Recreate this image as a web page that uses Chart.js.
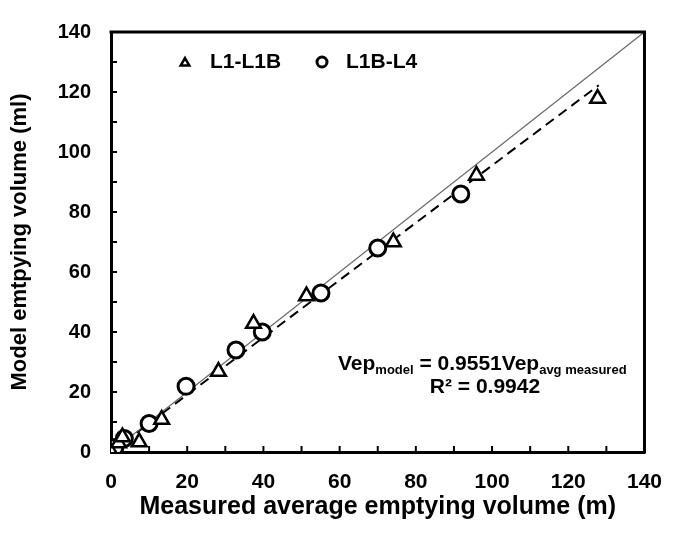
<!DOCTYPE html>
<html>
<head>
<meta charset="utf-8">
<script src="https://cdn.jsdelivr.net/npm/chart.js@4.4.1/dist/chart.umd.min.js"></script>
<style>
  html, body { margin: 0; padding: 0; background: #fff; }
  #wrap { width: 680px; height: 536px; }
</style>
</head>
<body>
<div id="wrap"><canvas id="grafica"></canvas></div>
<script>
// Datos
const l1X = [0, 2, 3, 7.4, 13.3, 28.2, 37.4, 51.3, 74.1, 95.9, 127.7];
const l1Y = [0, 3, 5, 3.3, 10.8, 26.8, 42.8, 52, 70, 92.2, 117.8];
const l4X = [0, 1, 3.5, 10, 19.7, 32.8, 39.7, 55.1, 70, 91.8];
const l4Y = [0, 1.5, 4.5, 9.5, 21.9, 34, 40, 53, 68, 86];
const lineaUnoX = [0, 140];
const lineaAjusteX = [0, 128];
const pendiente = 0.9551;
const ticksEje = [0, 20, 40, 60, 80, 100, 120, 140];

const fuente = "'Liberation Sans', Arial, sans-serif";

const puntos = (xs, ys) => xs.map((x, i) => ({ x: x, y: ys[i] }));

// Marco superior/derecho, ticks hacia adentro, leyenda y ecuación
const extras = {
    id: 'extras',
    afterDraw(chart) {
        const ctx = chart.ctx;
        const a = chart.chartArea;
        const sx = chart.scales.x, sy = chart.scales.y;
        ctx.save();
        ctx.strokeStyle = '#000';
        ctx.lineWidth = 3;
        ctx.beginPath();
        ctx.moveTo(a.left - 1.5, a.top);
        ctx.lineTo(a.right, a.top);
        ctx.lineTo(a.right, a.bottom + 1.5);
        ctx.stroke();
        ctx.lineWidth = 2;
        for (let v = 10; v < 140; v += 10) {
            const px = sx.getPixelForValue(v);
            ctx.beginPath(); ctx.moveTo(px, a.bottom); ctx.lineTo(px, a.bottom - 6); ctx.stroke();
            const py = sy.getPixelForValue(v);
            ctx.beginPath(); ctx.moveTo(a.left, py); ctx.lineTo(a.left + 6, py); ctx.stroke();
        }
        // leyenda
        ctx.fillStyle = '#fff';
        ctx.lineWidth = 2.5;
        Chart.helpers.drawPoint(ctx, { pointStyle: 'triangle', radius: 5, borderWidth: 2.5 }, 185, 63);
        ctx.lineWidth = 3;
        Chart.helpers.drawPoint(ctx, { pointStyle: 'circle', radius: 5, borderWidth: 3 }, 322, 62);
        ctx.fillStyle = '#000';
        ctx.font = 'bold 21px ' + fuente;
        ctx.textBaseline = 'middle';
        ctx.fillText('L1-L1B', 210, 62);
        ctx.fillText('L1B-L4', 346, 62);
        // ecuación
        let x = 338;
        const y = 370;
        const trozos = [
            ['Vep', 21, 0], ['model', 13, 4], [' = 0.9551Vep', 21, 0], ['avg measured', 13, 4]
        ];
        ctx.textBaseline = 'alphabetic';
        trozos.forEach(t => {
            ctx.font = 'bold ' + t[1] + 'px ' + fuente;
            ctx.fillText(t[0], x, y + t[2]);
            x += ctx.measureText(t[0]).width;
        });
        ctx.font = 'bold 21px ' + fuente;
        ctx.textAlign = 'center';
        ctx.fillText('R\u00B2 = 0.9942', 485, 393);
        ctx.restore();
    }
};

const ctx = document.getElementById('grafica').getContext('2d');
new Chart(ctx, {
    type: 'scatter',
    data: {
        datasets: [
            {
                label: 'L1-L1B',
                data: puntos(l1X, l1Y),
                pointStyle: 'triangle',
                pointRadius: 8.5,
                borderWidth: 2.5,
                borderColor: '#000',
                backgroundColor: '#fff',
                order: 0
            },
            {
                label: 'L1B-L4',
                data: puntos(l4X, l4Y),
                pointStyle: 'circle',
                pointRadius: 8,
                borderWidth: 3,
                borderColor: '#000',
                backgroundColor: '#fff',
                order: 0
            },
            {
                type: 'line',
                label: '1:1',
                data: puntos(lineaUnoX, lineaUnoX),
                borderColor: '#666',
                borderWidth: 1.2,
                pointRadius: 0,
                order: 1
            },
            {
                type: 'line',
                label: 'ajuste',
                data: puntos(lineaAjusteX, lineaAjusteX.map(v => v * pendiente)),
                borderColor: '#000',
                borderWidth: 2,
                borderDash: [10, 6],
                pointRadius: 0,
                order: 1
            }
        ]
    },
    options: {
        responsive: true,
        maintainAspectRatio: false,
        animation: false,
        layout: { padding: { left: 0, right: 23, top: 24, bottom: 0 } },
        plugins: { legend: { display: false }, tooltip: { enabled: false } },
        scales: {
            x: {
                type: 'linear',
                min: 0, max: 140,
                afterBuildTicks: s => { s.ticks = ticksEje.map(v => ({ value: v })); },
                afterFit: s => { s.height = 84; },
                grid: { display: false, drawTicks: false },
                border: { display: true, color: '#000', width: 3 },
                ticks: { padding: 18, color: '#000', font: { family: fuente, size: 21, weight: 'bold' } },
                title: {
                    display: true, text: 'Measured average emptying volume (m)',
                    color: '#000', font: { family: fuente, size: 25, weight: 'bold' },
                    padding: { top: 0, bottom: 14 }
                }
            },
            y: {
                type: 'linear',
                min: 0, max: 140,
                afterBuildTicks: s => { s.ticks = ticksEje.map(v => ({ value: v })); },
                afterFit: s => { s.width = 111; },
                grid: { display: false, drawTicks: false },
                border: { display: true, color: '#000', width: 3 },
                ticks: { padding: 20, color: '#000', font: { family: fuente, size: 20, weight: 'bold' } },
                title: {
                    display: true, text: 'Model emtpying volume (ml)',
                    color: '#000', font: { family: fuente, size: 22, weight: 'bold' },
                    padding: { top: 7, bottom: 0 }
                }
            }
        }
    },
    plugins: [extras]
});
</script>
</body>
</html>
